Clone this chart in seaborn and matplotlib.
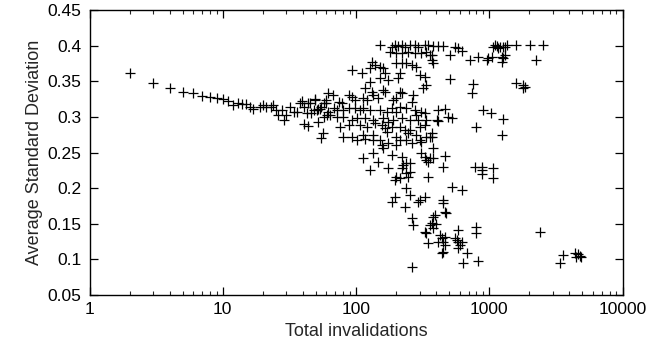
import matplotlib
matplotlib.use("Agg")
import matplotlib.pyplot as plt
import matplotlib.ticker as mticker
import numpy as np
import pandas as pd
import seaborn as sns

# ---- data ----
chain_x = [2, 3, 4, 5, 6, 7, 8, 9, 10, 11, 12, 13, 14, 15, 16, 17, 19, 20, 21, 23,
           24, 25, 28, 26, 29, 30, 32, 34, 36, 38, 39, 41, 44, 45, 43, 46, 49, 51, 52, 55,
           57, 54, 60, 61, 62, 41, 44, 49, 48, 52, 55, 58, 60, 62, 58]
chain_y = [0.361, 0.348, 0.3405, 0.335, 0.3335, 0.329, 0.328, 0.327, 0.325, 0.322,
           0.317, 0.320, 0.318, 0.318, 0.3135, 0.3115, 0.3135, 0.317, 0.3135, 0.314,
           0.317, 0.309, 0.310, 0.303, 0.296, 0.303, 0.314, 0.307, 0.307, 0.319,
           0.323, 0.290, 0.287, 0.319, 0.305, 0.305, 0.325, 0.310, 0.293, 0.270,
           0.277, 0.311, 0.319, 0.303, 0.333, 0.314, 0.319, 0.324, 0.310, 0.311,
           0.314, 0.319, 0.324, 0.307, 0.300]

top_x = [151, 185, 196, 207, 220, 233, 254, 277, 293, 329, 348,
         180, 201, 220, 247, 277, 310, 338, 358,
         131, 139, 151, 127, 160, 165, 201, 220, 239, 261, 284, 213, 301, 329, 207,
         93, 110, 127, 151, 175]
top_y = [0.401, 0.3985, 0.401, 0.3994, 0.401, 0.3985, 0.401, 0.401, 0.3985, 0.401, 0.401,
         0.3915, 0.3892, 0.3892, 0.3915, 0.3892, 0.3892, 0.3915, 0.3868,
         0.3775, 0.3728, 0.3704, 0.3681, 0.3681, 0.3611, 0.3751, 0.3751, 0.3751, 0.3728,
         0.3704, 0.3611, 0.3587, 0.3564, 0.354,
         0.3658, 0.3611, 0.3494, 0.354, 0.3517]

mid_x = [117, 131, 160, 165, 213, 220, 269, 319, 338, 190, 201, 261, 310, 329,
         67, 74, 78, 88, 93, 98, 113, 120, 135, 147,
         68, 72, 80, 88, 98, 107, 113, 127, 151, 170, 185, 201, 213, 239, 277, 284,
         64, 72, 80, 93, 101, 117, 135, 160, 175, 190, 220, 254, 293, 338,
         76, 88, 107, 120, 139, 156, 165, 185, 213, 233, 254, 301, 329,
         80, 93, 113, 135, 170, 201, 247, 284, 338]
mid_y = [0.34, 0.3353, 0.3377, 0.3353, 0.3353, 0.333, 0.3307, 0.34, 0.3447, 0.3237,
         0.326, 0.3213, 0.3073, 0.305,
         0.3307, 0.3213, 0.319, 0.3307, 0.3283, 0.3237, 0.326, 0.3237, 0.3307, 0.326,
         0.312, 0.3096, 0.3096, 0.312, 0.312, 0.3096, 0.312, 0.3096, 0.3096, 0.3073,
         0.312, 0.3073, 0.3143, 0.312, 0.3096, 0.3026,
         0.3026, 0.3003, 0.2993, 0.2956, 0.2979, 0.2979, 0.2956, 0.2979, 0.2932, 0.2956,
         0.2979, 0.2956, 0.2956, 0.2956,
         0.2862, 0.2886, 0.2886, 0.2862, 0.2909, 0.2886, 0.2839, 0.2862, 0.2862, 0.2815,
         0.2815, 0.2862, 0.2886,
         0.2722, 0.2722, 0.2745, 0.2745, 0.2792, 0.2722, 0.2769, 0.2745, 0.2722]

low_x = [101, 117, 135, 151, 156, 160, 175, 201, 213, 239, 261, 301, 310, 358,
         113, 135, 147, 127, 175, 185, 220, 226, 239, 254, 220, 239, 254, 247, 196, 201, 213,
         310, 329, 338, 348, 358, 348,
         239, 254, 196, 185, 233, 293, 301, 329, 261, 269, 329, 338, 348, 358, 261]
low_y = [0.2675, 0.2689, 0.2675, 0.2675, 0.2605, 0.2558, 0.2628, 0.2605, 0.2675, 0.2675,
         0.2628, 0.2675, 0.2651, 0.2722,
         0.2418, 0.2488, 0.2371, 0.2254, 0.2286, 0.2464, 0.2441, 0.2324, 0.2347, 0.2347,
         0.2277, 0.2207, 0.223, 0.216, 0.2113, 0.216, 0.2137,
         0.2488, 0.2441, 0.2394, 0.2371, 0.2418, 0.216,
         0.1996, 0.1903, 0.1879, 0.1809, 0.1739, 0.1809, 0.1833, 0.1879, 0.1575, 0.1482,
         0.1388, 0.1365, 0.1225, 0.1482, 0.0897]

band_x = [379, 414, 451, 552, 585, 619, 369, 506, 716, 826, 379, 369, 506, 749, 736,
          414, 464, 492, 521, 402, 414, 802, 369, 369,
          379, 379, 464, 447, 779, 521, 619, 451, 447, 464, 472, 391, 379, 369, 398, 379,
          426, 439, 464, 451, 414, 464, 552, 568, 585, 619, 601, 585, 451, 439, 675, 637,
          826, 792, 792, 585]
band_y = [0.3995, 0.3995, 0.3995, 0.3985, 0.3962, 0.3929, 0.3868, 0.3868, 0.3798, 0.3845,
          0.3751, 0.3798, 0.3527, 0.3461, 0.3339, 0.3096, 0.3106, 0.3003, 0.298, 0.2956,
          0.2946, 0.2862, 0.2769, 0.2722,
          0.2558, 0.2418, 0.2455, 0.2291, 0.2301, 0.202, 0.1973, 0.1833, 0.1786, 0.1669,
          0.1646, 0.1622, 0.1599, 0.1505, 0.1491, 0.1435, 0.1342, 0.1295, 0.1318, 0.1248,
          0.1248, 0.1201, 0.1295, 0.1272, 0.1248, 0.1248, 0.1201, 0.1155, 0.1108, 0.1084,
          0.1084, 0.0944, 0.0977, 0.1459, 0.1365, 0.1412]

right_x = [954, 982, 1040, 1070, 1102, 1134, 1201, 1272, 1348, 1236, 1236, 1309, 1601,
           2016, 2538, 2262, 1583, 1797, 1849, 1797, 901, 1022, 1272, 1236, 875, 875, 875,
           1058, 1070, 2396, 3384, 3585, 4385, 4645, 4781, 4920, 4513, 1167, 1258, 1309]
right_y = [0.3798, 0.3821, 0.3845, 0.3985, 0.401, 0.3994, 0.3985, 0.3985, 0.401, 0.3845,
           0.3775, 0.3868, 0.401, 0.401, 0.401, 0.3798, 0.348, 0.3447, 0.3424, 0.34,
           0.3097, 0.305, 0.2965, 0.2745, 0.2301, 0.2254, 0.2198, 0.2277, 0.2137, 0.1389,
           0.0954, 0.1061, 0.1084, 0.1075, 0.1047, 0.1028, 0.1038, 0.3962, 0.3821, 0.3985]

x_ticks = [1, 10, 100, 1000, 10000]
x_tick_labels = ["1", "10", "100", "1000", "10000"]
y_ticks = [0.05, 0.1, 0.15, 0.2, 0.25, 0.3, 0.35, 0.4, 0.45]
y_tick_labels = ["0.05", "0.1", "0.15", "0.2", "0.25", "0.3", "0.35", "0.4", "0.45"]

df = pd.DataFrame({
    "inv": chain_x + top_x + mid_x + low_x + band_x + right_x,
    "sd": chain_y + top_y + mid_y + low_y + band_y + right_y,
})

# ---- style ----
sns.set_style("ticks")
plt.rcParams["font.family"] = ["Liberation Sans", "DejaVu Sans"]
FS_TICK = 12.5
FS_LABEL = 13

fig = plt.figure(figsize=(6.65, 3.43), dpi=100)
ax = fig.add_axes([0.1346, 0.1399, 0.9361 - 0.1346, 0.9708 - 0.1399])

sns.scatterplot(data=df, x="inv", y="sd", marker="+", color="black",
                s=45, linewidth=0.9, ax=ax, legend=False)

ax.set_xscale("log")
ax.set_xlim(1, 10000)
ax.set_ylim(0.05, 0.45)
ax.set_xticks(x_ticks)
ax.set_xticklabels(x_tick_labels)
ax.xaxis.set_minor_locator(mticker.LogLocator(base=10, subs=np.arange(2, 10)))
ax.xaxis.set_minor_formatter(mticker.NullFormatter())
ax.set_yticks(y_ticks)
ax.set_yticklabels(y_tick_labels)

for sp in ax.spines.values():
    sp.set_visible(True)
    sp.set_linewidth(1.0)
    sp.set_color("black")

ax.tick_params(which="major", direction="in", length=5.5, width=0.9,
               top=True, right=True, labelsize=FS_TICK, colors="black")
ax.tick_params(axis="y", which="major", pad=6)
ax.tick_params(axis="x", which="major", pad=5)
ax.tick_params(which="minor", direction="in", length=3, width=0.8,
               top=True, right=True)

ax.set_xlabel("Total invalidations", fontsize=FS_LABEL, labelpad=4)
ax.set_ylabel("Average Standard Deviation", fontsize=FS_LABEL, labelpad=3)

fig.savefig("out.png", dpi=100)
